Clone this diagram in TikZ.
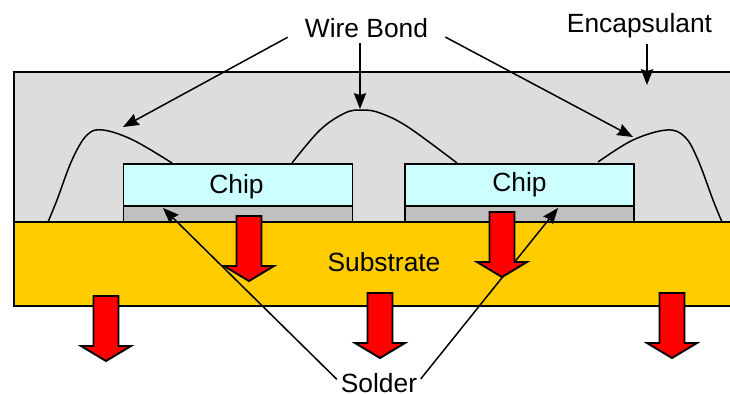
\documentclass[tikz,border=0pt]{standalone}
\usepackage{fontspec}
\setmainfont{Liberation Sans}
\usetikzlibrary{arrows.meta}
\definecolor{encapgray}{HTML}{DDDDDD}
\definecolor{chipcyan}{HTML}{CCFFFF}
\definecolor{soldergray}{HTML}{C0C0C0}
\definecolor{substrateyellow}{HTML}{FFCC00}
\tikzset{
    outline/.style={draw=black, line width=0.85pt},
    chipbox/.style={outline, fill=chipcyan, minimum width=4.58cm, minimum height=0.84cm, inner sep=0pt},
    solderbox/.style={outline, fill=soldergray, minimum width=4.58cm, minimum height=0.32cm, inner sep=0pt},
    caption/.style={inner sep=0pt, font=\fontsize{15}{18}\selectfont},
    wire/.style={line width=0.85pt, smooth, tension=0.6},
    leader/.style={line width=0.85pt, -{Stealth[length=9pt, width=7pt, inset=1pt]}},
    heatarrow/.style={draw=black, line width=1.1pt, fill=red, line join=miter}
}
\begin{document}
\begin{tikzpicture}[x=0.02cm, y=-0.02cm]
    \useasboundingbox (0, 0) rectangle (730, 393);
    %\draw[lightgray] (0, 0) grid (730, 393);
    \draw[outline, fill=encapgray] (735, 72) -- (14, 72) -- (14, 222) -- (735, 222);
    \draw[outline, fill=substrateyellow] (735, 222) -- (14, 222) -- (14, 306) -- (735, 306);
    \node[chipbox] (chipa) at (238, 185) {};
    \node[chipbox] (chipb) at (519.5, 185) {};
    \node[solderbox] (soldera) at (238, 214) {};
    \node[solderbox] (solderb) at (519.5, 214) {};
    \node[caption] (chipatext) at (236.5, 187) {Chip};
    \node[caption] (chipbtext) at (519.5, 185) {Chip};
    \node[caption] (substrate) at (384, 262) {Substrate};
    \node[caption] (wirebond) at (366.5, 28) {Wire Bond};
    \node[caption] (encapsulant) at (639.5, 26) {Encapsulant};
    \node[caption] (solder) at (379, 383) {Solder};
    % bond wires
    \draw[wire] plot coordinates {(48, 222) (57, 200) (72, 160) (87, 135) (103, 130) (133, 140) (172, 163)};
    \draw[wire] plot coordinates {(292, 163) (320, 130) (345, 113) (362, 110) (380, 113) (408, 127) (457, 163)};
    \draw[wire] plot coordinates {(598, 162) (633, 140) (667, 130) (685, 137) (698, 160) (713, 200) (722, 222)};
    % free ends of the pointers
    \coordinate (wiretipa) at (123, 127);
    \coordinate (wiretipb) at (360, 109);
    \coordinate (wiretipc) at (633, 137);
    \coordinate (encaptip) at (647, 85);
    \coordinate (soldertipa) at (163, 208);
    \coordinate (soldertipb) at (558, 208);
    \draw[leader, shorten <=11pt] (wirebond.west) -- (wiretipa);
    \draw[leader, shorten <=3pt] (wirebond.south -| wiretipb) -- (wiretipb);
    \draw[leader, shorten <=11pt] (wirebond.east) -- (wiretipc);
    \draw[leader, shorten <=3pt] (encapsulant.south -| encaptip) -- (encaptip);
    \draw[leader, shorten <=3pt] (solder.west) -- (soldertipa);
    \draw[leader, shorten <=3pt] (solder.east) -- (soldertipb);
    % heat flow
    \foreach \x/\y in {249/215, 502/211, 106/295, 380/292, 672/292} {
        \draw[heatarrow] (\x-12.5, \y+1) -- (\x+12.5, \y+1) -- (\x+12.5, \y+51) -- (\x+25, \y+51)
            -- (\x, \y+66) -- (\x-25, \y+51) -- (\x-12.5, \y+51) -- cycle;
    }
\end{tikzpicture}
\end{document}
